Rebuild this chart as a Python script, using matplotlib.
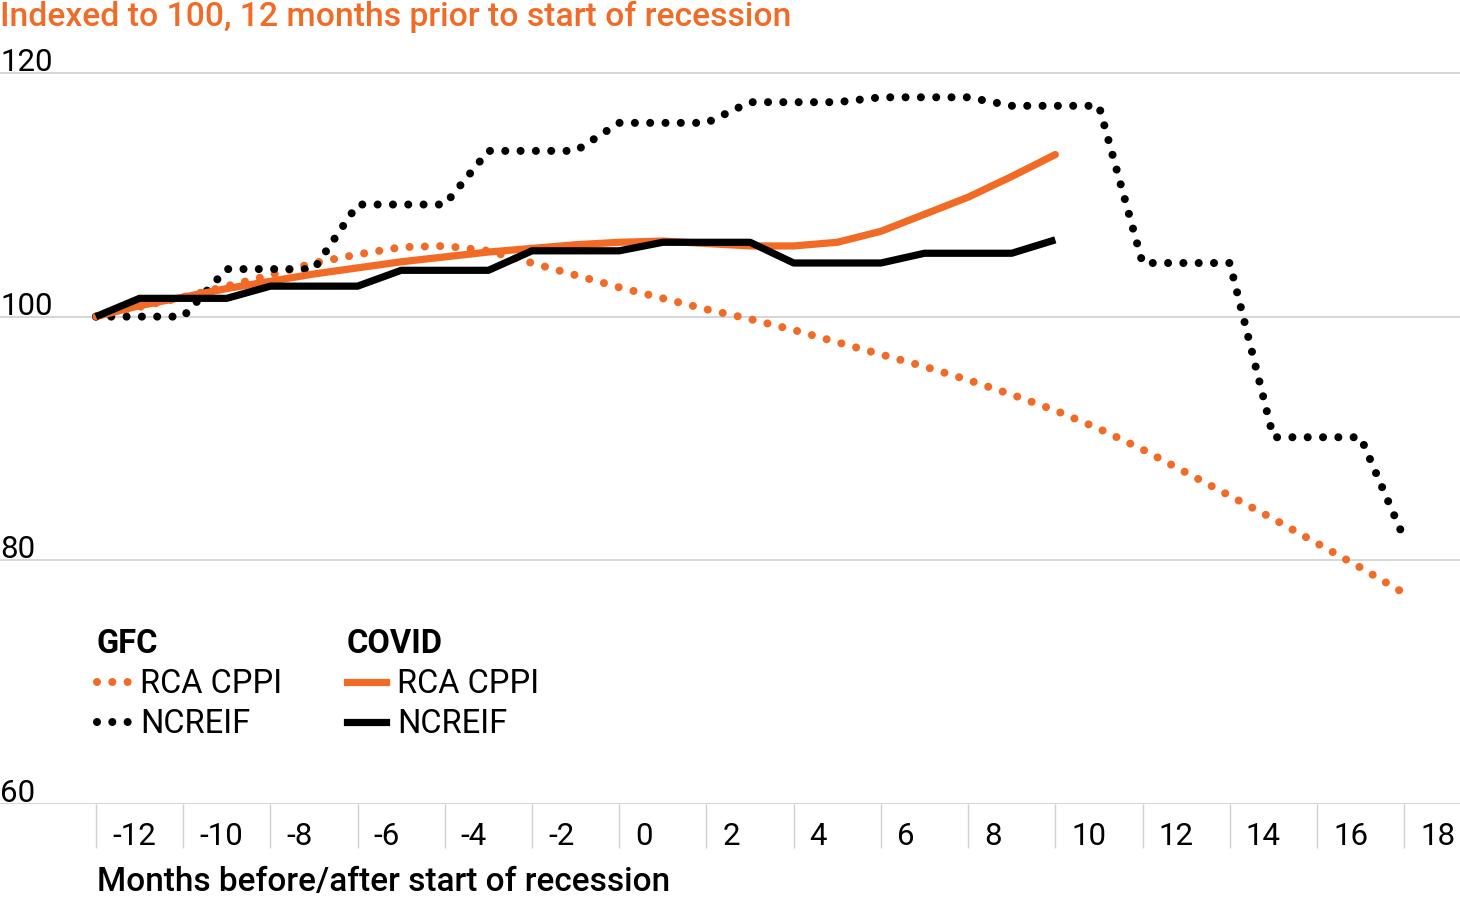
import matplotlib
matplotlib.use("Agg")
import matplotlib.pyplot as plt
from matplotlib.lines import Line2D
from matplotlib.transforms import ScaledTranslation, blended_transform_factory

plt.rcParams['font.family'] = ['Roboto', 'DejaVu Sans']

ORANGE = "#F26B26"
GRID = "#d0d0d0"

months = list(range(-12, 19))

gfc_cppi = [100.0, 100.8, 101.6, 102.5, 103.4, 104.4, 105.1, 105.7, 105.8, 105.4,
            104.4, 103.4, 102.4, 101.5, 100.6, 99.8, 98.9, 97.9, 96.9, 95.9,
            94.8, 93.6, 92.3, 90.8, 89.1, 87.2, 85.3, 83.4, 81.4, 79.4, 77.3]
gfc_ncreif = [100.0, 100.0, 100.0, 103.9, 103.9, 103.9, 109.2, 109.2, 109.2, 113.6,
              113.6, 113.6, 115.9, 115.9, 115.9, 117.6, 117.6, 117.6, 118.0, 118.0,
              118.0, 117.3, 117.3, 117.3, 104.4, 104.4, 104.4, 90.1, 90.1, 90.1, 81.8]

covid_months = list(range(-12, 11))
covid_cppi = [100.0, 100.9, 101.6, 102.3, 102.9, 103.5, 104.0, 104.5, 104.9, 105.3,
              105.6, 105.9, 106.1, 106.2, 106.0, 105.8, 105.8, 106.1, 107.0, 108.4,
              109.8, 111.5, 113.3]
covid_ncreif = [100.0, 101.5, 101.5, 101.5, 102.5, 102.5, 102.5, 103.8, 103.8, 103.8,
                105.4, 105.4, 105.4, 106.1, 106.1, 106.1, 104.4, 104.4, 104.4, 105.2,
                105.2, 105.2, 106.3]

x_ticks = list(range(-12, 19, 2))
y_ticks = [60, 80, 100, 120]

title = "Indexed to 100, 12 months prior to start of recession"
x_label = "Months before/after start of recession"

fig = plt.figure(figsize=(14.6, 9), dpi=100)
ax = fig.add_axes([0, 96 / 900, 1, 792 / 900])
ax.set_xlim(-14.2, 19.28)
ax.set_ylim(60, 125)

for s in ax.spines.values():
    s.set_visible(False)

ax.set_yticks(y_ticks)
ax.yaxis.grid(True, color=GRID, lw=1.2)
ax.tick_params(axis='y', length=0, labelleft=False)
ax.set_axisbelow(True)

dot = (0, (0.001, 1.9))
lw_dot = 5.8
lw = 5.2
ax.plot(months, gfc_cppi, color=ORANGE, lw=lw_dot, ls=dot, dash_capstyle='round')
ax.plot(months, gfc_ncreif, color='black', lw=lw_dot, ls=dot, dash_capstyle='round')
ax.plot(covid_months, covid_cppi, color=ORANGE, lw=lw, solid_capstyle='round')
ax.plot(covid_months, covid_ncreif, color='black', lw=lw, solid_capstyle='butt')

ax.set_xticks(x_ticks)
ax.set_xticklabels([str(t) for t in x_ticks])
ax.tick_params(axis='x', direction='out', length=31.7, width=1, color=GRID,
               labelsize=22.5, pad=-19)
off = ScaledTranslation(0.16, 0, fig.dpi_scale_trans)
for lab in ax.get_xticklabels():
    lab.set_horizontalalignment('left')
    lab.set_transform(lab.get_transform() + off)

ytrans = blended_transform_factory(ax.transAxes, ax.transData)
for v in y_ticks:
    ax.text(0.0, v, str(v), transform=ytrans + ScaledTranslation(0, 0.02, fig.dpi_scale_trans),
            ha='left', va='baseline', fontsize=22.5)

fig.text(0.0, 1 - 17 / 900, title, color=ORANGE, fontsize=24.2, fontweight='medium',
         ha='left', va='center')
fig.text(97 / 1460, 1 - 882 / 900, x_label, fontsize=24, fontweight='medium',
         ha='left', va='center')

gfc_handles = [Line2D([], [], color=ORANGE, lw=lw_dot, ls=dot, dash_capstyle='round'),
               Line2D([], [], color='black', lw=lw_dot, ls=dot, dash_capstyle='round')]
covid_handles = [Line2D([], [], color=ORANGE, lw=lw),
                 Line2D([], [], color='black', lw=lw)]
labels = ["RCA CPPI", "NCREIF"]

leg_kw = dict(frameon=False, fontsize=23.5, handletextpad=0.33,
              labelspacing=0.25, borderpad=0, borderaxespad=0, alignment='left',
              title_fontproperties={'weight': 'bold', 'size': 23.5}, loc='upper left')
leg1 = fig.legend(gfc_handles, labels, title="GFC", handlelength=1.0,
                  bbox_to_anchor=(97 / 1460, 1 - 628 / 900), **leg_kw)
leg2 = fig.legend(covid_handles, labels, title="COVID", handlelength=1.2,
                  bbox_to_anchor=(347 / 1460, 1 - 628 / 900), **leg_kw)

fig.savefig("out.png", dpi=100)
